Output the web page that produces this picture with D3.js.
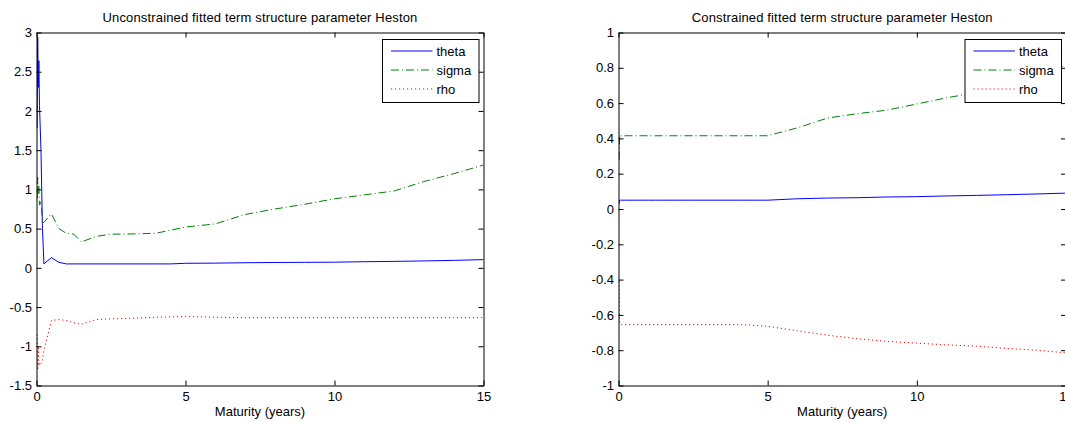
<!DOCTYPE html>
<html>
<head>
<meta charset="utf-8">
<script src="https://cdn.jsdelivr.net/npm/d3@7"></script>
<style>
  html, body { margin: 0; padding: 0; background: #fff; }
  svg { display: block; }
  text { font-family: "Liberation Sans", Arial, Helvetica, sans-serif; fill: #000; }
</style>
</head>
<body>
<svg id="fig" width="1065" height="422"></svg>
<script>
// Maturity grid (years) shared by all fitted parameters
const maturities = [0.02, 0.04, 0.06, 0.08, 0.1, 0.15, 0.2, 0.25, 0.5, 0.75, 1, 1.25, 1.5, 2, 2.5, 3, 4, 4.5,
                    5, 6, 7, 8, 9, 10, 11, 12, 13, 14, 15];

// Unconstrained fit
const thetaFree = [1.78, 2.94, 2.30, 2.64, 2.07, 1.50, 0.50, 0.05, 0.13, 0.07, 0.05, 0.05, 0.05, 0.05, 0.05, 0.05, 0.05, 0.05,
                   0.058, 0.06, 0.065, 0.068, 0.07, 0.072, 0.078, 0.082, 0.088, 0.095, 0.105];
const sigmaFree = [0.88, 1.15, 0.95, 1.05, 0.80, 0.85, 0.57, 0.58, 0.69, 0.50, 0.44, 0.43, 0.33, 0.40, 0.43, 0.43, 0.44, 0.48,
                   0.52, 0.56, 0.68, 0.75, 0.81, 0.88, 0.93, 0.98, 1.10, 1.20, 1.31];
const rhoFree   = [-0.85, -1.30, -1.00, -1.25, -1.20, -1.22, -1.18, -1.05, -0.67, -0.66, -0.67, -0.70, -0.72, -0.66, -0.65, -0.645, -0.63, -0.625,
                   -0.62, -0.63, -0.635, -0.635, -0.635, -0.635, -0.635, -0.635, -0.635, -0.635, -0.635];

// Constrained fit
const thetaCons = [0.03, 0.05, 0.05, 0.05, 0.05, 0.05, 0.05, 0.05, 0.05, 0.05, 0.05, 0.05, 0.05, 0.05, 0.05, 0.05, 0.05, 0.05,
                   0.05, 0.058, 0.062, 0.064, 0.068, 0.07, 0.074, 0.077, 0.081, 0.085, 0.09];
const sigmaCons = [0.28, 0.42, 0.415, 0.415, 0.415, 0.415, 0.415, 0.415, 0.415, 0.415, 0.415, 0.415, 0.415, 0.415, 0.415, 0.415, 0.415, 0.415,
                   0.415, 0.46, 0.515, 0.54, 0.56, 0.595, 0.63, 0.66, 0.70, 0.75, 0.815];
const rhoCons   = [-0.41, -0.64, -0.655, -0.655, -0.655, -0.655, -0.655, -0.655, -0.655, -0.655, -0.655, -0.655, -0.655, -0.655, -0.655, -0.655, -0.655, -0.658,
                   -0.665, -0.69, -0.715, -0.735, -0.75, -0.76, -0.77, -0.777, -0.79, -0.80, -0.815];

const xTicks = [0, 5, 10, 15];
const yTicksFree = [-1.5, -1, -0.5, 0, 0.5, 1, 1.5, 2, 2.5, 3];
const yTicksCons = [-1, -0.8, -0.6, -0.4, -0.2, 0, 0.2, 0.4, 0.6, 0.8, 1];
const seriesNames = ["theta", "sigma", "rho"];

const styles = {
  theta: { color: "#0000ff", dash: null },
  sigma: { color: "#008000", dash: "8,3,1,3" },
  rho:   { color: "#ff0000", dash: "1.2,2.8" }
};

const svg = d3.select("#fig");
svg.append("rect").attr("width", 1065).attr("height", 422).attr("fill", "#fff");

function panel(opts) {
  const { left, right, top, bottom, yDomain, yTicks, title, data, id } = opts;
  const x = d3.scaleLinear().domain([0, 15]).range([left, right]);
  const y = d3.scaleLinear().domain(yDomain).range([bottom, top]);
  const g = svg.append("g");

  g.append("clipPath").attr("id", id)
    .append("rect").attr("x", left).attr("y", top)
    .attr("width", right - left).attr("height", bottom - top);

  const line = d3.line().x(d => x(d[0])).y(d => y(d[1]));
  const plot = g.append("g").attr("clip-path", `url(#${id})`);
  seriesNames.forEach((name, i) => {
    const pts = maturities.map((m, k) => [m, data[i][k]]);
    plot.append("path")
      .datum(pts)
      .attr("d", line)
      .attr("fill", "none")
      .attr("stroke", styles[name].color)
      .attr("stroke-width", 1)
      .attr("stroke-dasharray", styles[name].dash);
  });

  const fmt = d => String(d);
  const axStyle = sel => {
    sel.selectAll("text").style("font-size", "13px").attr("fill", "#000");
    sel.selectAll("line, path").attr("stroke", "#000");
  };

  g.append("g").attr("transform", `translate(0,${bottom})`)
    .call(d3.axisBottom(x).tickValues(xTicks).tickFormat(fmt).tickSizeInner(-5).tickSizeOuter(0).tickPadding(6))
    .call(axStyle);
  g.append("g").attr("transform", `translate(0,${top})`)
    .call(d3.axisTop(x).tickValues(xTicks).tickFormat("").tickSizeInner(-5).tickSizeOuter(0))
    .call(axStyle);
  g.append("g").attr("transform", `translate(${left},0)`)
    .call(d3.axisLeft(y).tickValues(yTicks).tickFormat(fmt).tickSizeInner(-5).tickSizeOuter(0).tickPadding(4.5))
    .call(axStyle);
  g.append("g").attr("transform", `translate(${right},0)`)
    .call(d3.axisRight(y).tickValues(yTicks).tickFormat("").tickSizeInner(-5).tickSizeOuter(0))
    .call(axStyle);
  g.selectAll(".domain").attr("fill", "none");

  g.append("text")
    .attr("x", (left + right) / 2).attr("y", 21.5)
    .attr("text-anchor", "middle").style("font-size", "13px")
    .style("letter-spacing", "0.15px")
    .text(title);
  g.append("text")
    .attr("x", (left + right) / 2).attr("y", 416)
    .attr("text-anchor", "middle").style("font-size", "13px")
    .text("Maturity (years)");

  // legend box in the upper right corner
  const lw = 96.5, lh = 63;
  const lx = right - 4.5 - lw, ly = top + 7;
  const leg = g.append("g").attr("transform", `translate(${lx},${ly})`);
  leg.append("rect").attr("width", lw).attr("height", lh)
    .attr("fill", "#fff").attr("stroke", "#000").attr("stroke-width", 1);
  seriesNames.forEach((name, i) => {
    const yy = 11.5 + i * 19;
    leg.append("line")
      .attr("x1", 8.5).attr("x2", 50).attr("y1", yy).attr("y2", yy)
      .attr("stroke", styles[name].color).attr("stroke-width", 1)
      .attr("stroke-dasharray", styles[name].dash);
    leg.append("text")
      .attr("x", 54).attr("y", yy).attr("dy", "0.35em")
      .style("font-size", "13px")
      .text(name);
  });
}

panel({
  id: "clip-free", left: 36.5, right: 483.5, top: 32.5, bottom: 385.5,
  yDomain: [-1.5, 3], yTicks: yTicksFree,
  title: "Unconstrained fitted term structure parameter Heston",
  data: [thetaFree, sigmaFree, rhoFree]
});
panel({
  id: "clip-cons", left: 618.5, right: 1066, top: 32.5, bottom: 385.5,
  yDomain: [-1, 1], yTicks: yTicksCons,
  title: "Constrained fitted term structure parameter Heston",
  data: [thetaCons, sigmaCons, rhoCons]
});
</script>
</body>
</html>
